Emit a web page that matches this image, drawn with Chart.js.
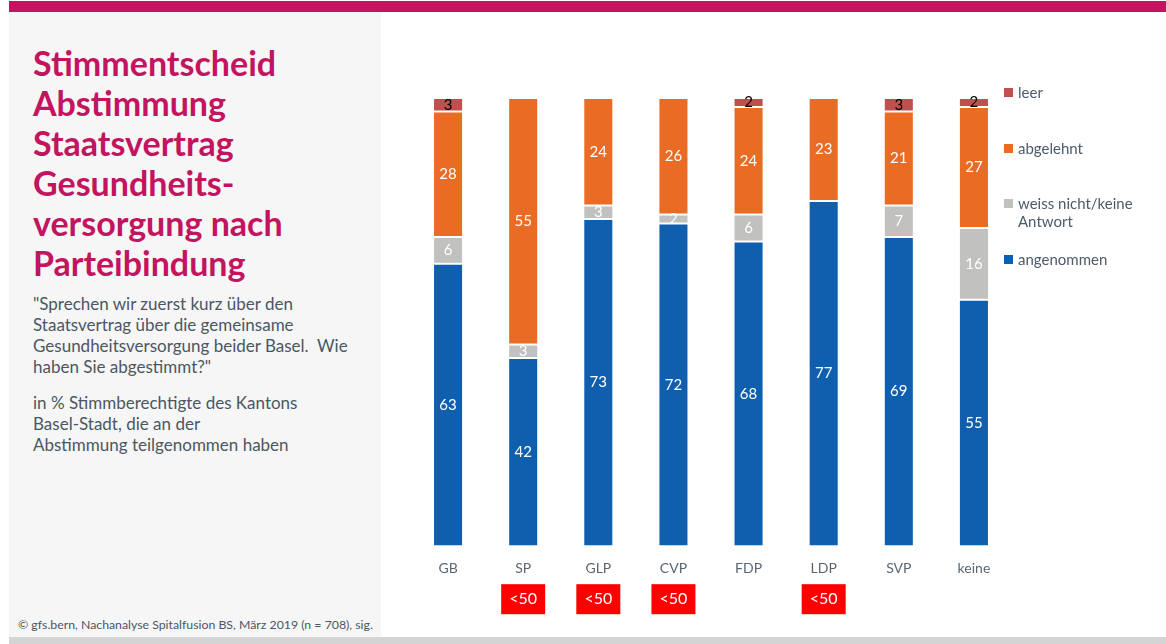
<!DOCTYPE html>
<html lang="de">
<head>
<meta charset="utf-8">
<title>Stimmentscheid nach Parteibindung</title>
<script src="https://cdn.jsdelivr.net/npm/chart.js@4.4.1/dist/chart.umd.min.js"></script>
<style>
  html, body { margin:0; padding:0; background:#fff; }
  body { width:1166px; height:644px; position:relative; overflow:hidden; font-family: Lato, "Open Sans", sans-serif; }
  .topbar { position:absolute; left:9px; top:1px; width:1157px; height:11px; background:#c4135f; }
  .bottombar { position:absolute; left:9px; top:637px; width:1157px; height:7px; background:#d4d4d4; }
  .panel { position:absolute; left:9px; top:12px; width:372px; height:625px; background:#f6f6f6; }
  .panel h1 { position:absolute; left:24px; top:31px; margin:0; font-size:34px; line-height:40px; font-weight:700; color:#c4135f; }
  .panel .q { position:absolute; left:24px; top:281px; margin:0; font-size:17px; line-height:21px; color:#4b5663; }
  .panel .base { position:absolute; left:24px; top:380px; margin:0; font-size:17px; line-height:21px; color:#4b5663; }
  .panel .src { position:absolute; left:9px; top:605px; margin:0; font-size:12.3px; color:#4b5663; white-space:nowrap; }
  .chartbox { position:absolute; left:381px; top:12px; width:785px; height:625px; }
  #legend { position:absolute; left:1004px; top:83px; margin:0; padding:0; list-style:none; font-size:15px; color:#4d5b69; }
  #legend li { position:relative; height:55.5px; padding-left:14px; line-height:18px; width:140px; }
  #legend li span { position:absolute; left:0; top:5px; width:9px; height:9px; }
</style>
</head>
<body>
<div class="topbar"></div>
<div class="panel">
  <h1>Stimmentscheid<br>Abstimmung<br>Staatsvertrag<br>Gesundheits-<br>versorgung nach<br>Parteibindung</h1>
  <p class="q">"Sprechen wir zuerst kurz über den<br>Staatsvertrag über die gemeinsame<br>Gesundheitsversorgung beider Basel.&nbsp; Wie<br>haben Sie abgestimmt?"</p>
  <p class="base">in % Stimmberechtigte des Kantons<br>Basel-Stadt, die an der<br>Abstimmung teilgenommen haben</p>
  <p class="src">© gfs.bern, Nachanalyse Spitalfusion BS, März 2019 (n = 708), sig.</p>
</div>
<div class="chartbox"><canvas id="chart"></canvas></div>
<ul id="legend"></ul>
<div class="bottombar"></div>
<script>
const parties     = ['GB', 'SP', 'GLP', 'CVP', 'FDP', 'LDP', 'SVP', 'keine'];
const angenommen  = [63, 42, 73, 72, 68, 77, 69, 55];
const weissNicht  = [6, 3, 3, 2, 6, null, 7, 16];
const abgelehnt   = [28, 55, 24, 26, 24, 23, 21, 27];
const leer        = [3, null, null, null, 2, null, 3, 2];
// groups with fewer than 50 respondents
const lowN        = [false, true, true, true, false, true, false, false];
const lowNLabel   = '<50';

const seriesNames  = ['angenommen', 'weiss nicht/keine Antwort', 'abgelehnt', 'leer'];
const seriesColors = ['#0f5fae', '#c1c1c0', '#e96b24', '#c0504d'];
const labelColors  = ['#fff', '#fff', '#fff', '#000'];

const datasets = [angenommen, weissNicht, abgelehnt, leer].map((d, i) => ({
  label: seriesNames[i],
  data: d,
  backgroundColor: seriesColors[i],
  borderColor: 'rgba(255,255,255,0.45)',
  borderWidth: 1,
  borderSkipped: false,
  barPercentage: 0.4,
  categoryPercentage: 1
}));

// numbers inside each segment
const segmentLabels = {
  id: 'segmentLabels',
  afterDatasetsDraw(chart){
    const c = chart.ctx;
    c.save();
    c.font = '15px Lato, "Open Sans", sans-serif';
    c.textAlign = 'center';
    c.textBaseline = 'middle';
    chart.data.datasets.forEach((ds, i) => {
      chart.getDatasetMeta(i).data.forEach((bar, j) => {
        const v = ds.data[j];
        if(v == null) return;
        c.fillStyle = labelColors[i];
        c.fillText(String(v), bar.x, (bar.y + bar.base) / 2);
      });
    });
    c.restore();
  }
};

// red "<50" flags under the axis labels
const lowNFlags = {
  id: 'lowNFlags',
  afterDraw(chart){
    const c = chart.ctx, x = chart.scales.x, top = chart.chartArea.bottom + 38;
    c.save();
    c.font = '16px Lato, "Open Sans", sans-serif';
    c.textAlign = 'center';
    c.textBaseline = 'middle';
    lowN.forEach((flag, i) => {
      if(!flag) return;
      const cx = x.getPixelForValue(i);
      c.fillStyle = '#ff0000';
      c.fillRect(cx - 22, top, 44, 30);
      c.fillStyle = '#fff';
      c.fillText(lowNLabel, cx, top + 15);
    });
    c.restore();
  }
};

const chart = new Chart(document.getElementById('chart'), {
  type: 'bar',
  data: { labels: parties, datasets },
  options: {
    responsive: true,
    maintainAspectRatio: false,
    animation: false,
    layout: { padding: { left: 29.5, right: 154.5, top: 86, bottom: 46 } },
    plugins: { legend: { display: false }, tooltip: { enabled: false } },
    scales: {
      x: {
        stacked: true,
        grid: { display: false, drawTicks: false },
        border: { display: false },
        ticks: { color: '#5a6672', padding: 14, font: { size: 14, family: 'Lato, "Open Sans", sans-serif' } }
      },
      y: { stacked: true, min: 0, max: 100, display: false }
    }
  },
  plugins: [segmentLabels, lowNFlags]
});

// legend, top to bottom in reverse stacking order
const legendEl = document.getElementById('legend');
chart.data.datasets.slice().reverse().forEach(ds => {
  const li = document.createElement('li');
  const sw = document.createElement('span');
  sw.style.background = ds.backgroundColor;
  li.appendChild(sw);
  li.appendChild(document.createTextNode(ds.label));
  legendEl.appendChild(li);
});
</script>
</body>
</html>
